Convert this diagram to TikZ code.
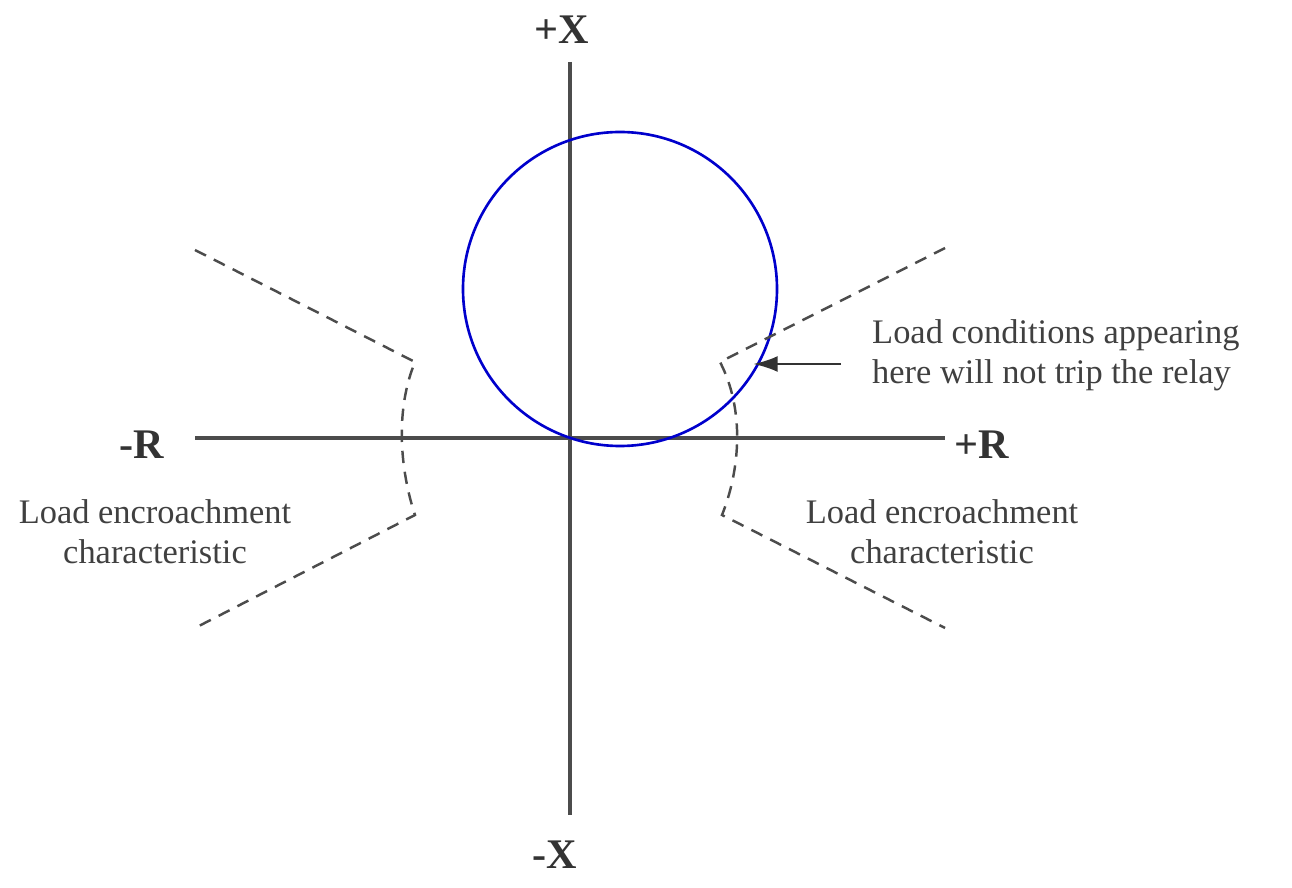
\documentclass[tikz,border=0pt]{standalone}
\usepackage{fontspec}
\setmainfont{Liberation Serif}
\usetikzlibrary{arrows.meta}
\begin{document}
\begin{tikzpicture}[x=0.02cm,y=-0.02cm,
 axis/.style={line width=2.4pt,draw=black!70},
 dsh/.style={dashed,dash pattern=on 7pt off 5pt,line width=1.4pt,draw=black!70},
 lbl/.style={font=\fontsize{19.6}{23}\selectfont,text=black!75,align=center},
 big/.style={font=\fontsize{24}{28}\selectfont\bfseries,text=black!80}]
\useasboundingbox (0,0) rectangle (1292,888);
\coordinate (O) at (570,438);
\coordinate (xt) at (570,62); \coordinate (xb) at (570,815);
\coordinate (rl) at (195,438); \coordinate (rr) at (945,438);
\draw[axis] (xt) -- (xb);
\draw[axis] (rl) -- (rr);
\draw[blue!80!black,line width=1.5pt] (620,289) circle[radius=157];
\draw[dsh] (195,250) -- (415,362) .. controls (395,410) and (400,470) .. (415,515) -- (195,628);
\draw[dsh] (945,248) -- (720,362) .. controls (745,410) and (740,470) .. (722,515) -- (945,628);
\node[big] (px) at (562,30) {+X};
\node[big] (mx) at (555,855) {-X};
\node[big] (mr) at (142,445) {-R};
\node[big] (pr) at (982,445) {+R};
\node[lbl,align=left,anchor=west] (lc) at (866,355) {Load conditions appearing\\here will not trip the relay};
\coordinate (tip) at (753,364);
\draw[line width=1.5pt,black!80,-{Latex[length=14pt,width=9pt]}] (lc.west|-tip) ++(-25,0) -- (tip);
\node[lbl] (l1) at (155,532) {Load encroachment\\characteristic};
\node[lbl] (l2) at (942,532) {Load encroachment\\characteristic};
\end{tikzpicture}
\end{document}
